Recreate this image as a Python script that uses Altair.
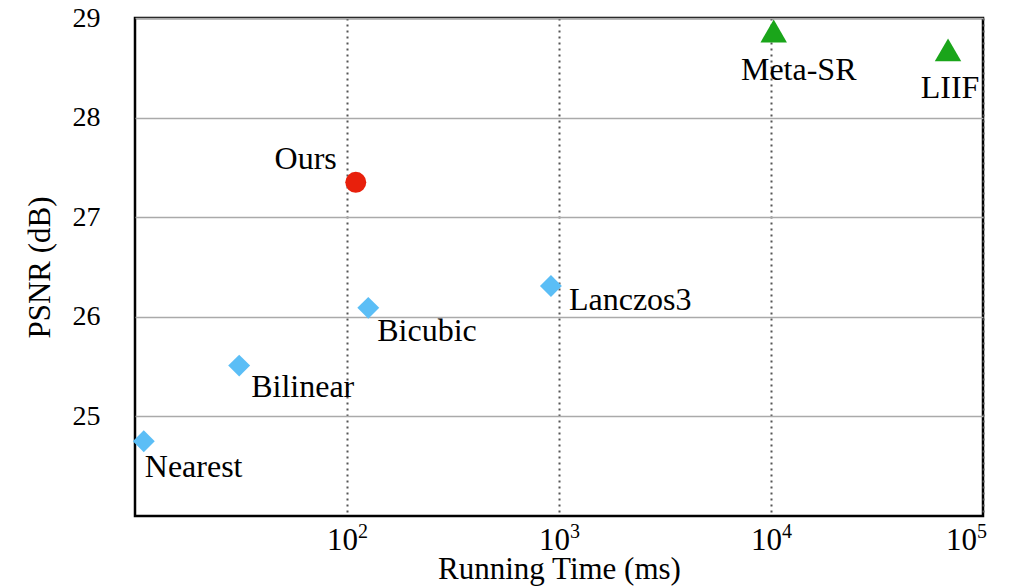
import altair as alt
import pandas as pd

methods = ["Nearest", "Bilinear", "Bicubic", "Lanczos3", "Ours", "Meta-SR", "LIIF"]
time_ms = [11.0, 31.0, 126, 916, 110, 10300, 68400]
psnr = [24.75, 25.51, 26.09, 26.31, 27.35, 28.87, 28.68]
kind = ["interp", "interp", "interp", "interp", "ours", "learned", "learned"]

x_ticks = [100, 1000, 10000, 100000]
x_tick_base = ["10", "10", "10", "10"]
x_tick_exp = ["2", "3", "4", "5"]
y_ticks = [25, 26, 27, 28, 29]

df = pd.DataFrame({"method": methods, "time": time_ms, "psnr": psnr, "kind": kind})
ticks_df = pd.DataFrame({"time": x_ticks, "base": x_tick_base, "exp": x_tick_exp})

FONT = "Liberation Serif"
Y_MIN = 24

x_enc = alt.X(
    "time:Q",
    scale=alt.Scale(type="log", domain=[10, 100000], nice=False),
    axis=alt.Axis(
        values=x_ticks,
        labels=False,
        title="Running Time (ms)",
        grid=True,
        gridDash=[2, 4],
        gridColor="#555555",
        gridWidth=2,
        ticks=False,
        domain=False,
        titleFontSize=31,
        titleFontWeight="normal",
        titlePadding=38,
        titleColor="black",
        titleFont=FONT,
    ),
)
y_enc = alt.Y(
    "psnr:Q",
    scale=alt.Scale(domain=[24, 29], nice=False, zero=False),
    axis=alt.Axis(
        values=y_ticks,
        format="d",
        title="PSNR (dB)",
        grid=True,
        gridColor="#aaaaaa",
        gridWidth=1.5,
        ticks=False,
        domain=False,
        labelFontSize=28,
        labelPadding=35,
        titleFontSize=31,
        titleFontWeight="normal",
        titlePadding=16,
        labelColor="black",
        titleColor="black",
        labelFont=FONT,
        titleFont=FONT,
        labelFlush=False,
    ),
)

base = alt.Chart(df)

diamonds = base.transform_filter(alt.datum.kind == "interp").mark_point(
    shape="diamond", filled=True, size=480, color="#5BBEF6", opacity=1
).encode(x=x_enc, y=y_enc)

circle = base.transform_filter(alt.datum.kind == "ours").mark_point(
    shape="circle", filled=True, size=441, color="#E8200C", opacity=1
).encode(x="time:Q", y="psnr:Q")

triangles = base.transform_filter(alt.datum.kind == "learned").mark_point(
    shape="triangle-up", filled=True, size=700, color="#1AA51A", opacity=1
).encode(x="time:Q", y="psnr:Q")

label_style = {
    "Nearest": dict(align="left", dx=1, dy=36),
    "Bilinear": dict(align="left", dx=12, dy=31),
    "Bicubic": dict(align="left", dx=9, dy=33),
    "Lanczos3": dict(align="left", dx=18, dy=24),
    "Ours": dict(align="right", dx=-19, dy=-13),
    "Meta-SR": dict(align="center", dx=25, dy=49),
    "LIIF": dict(align="center", dx=2, dy=48),
}

texts = []
for m in methods:
    st = label_style[m]
    texts.append(
        base.transform_filter(alt.datum.method == m)
        .mark_text(font=FONT, fontSize=32, color="black", baseline="alphabetic", **st)
        .encode(x="time:Q", y="psnr:Q", text="method:N")
    )

# x tick labels as 10 with superscript exponent
tick_base = alt.Chart(ticks_df)
inner = alt.datum.time < 100000
last = alt.datum.time >= 100000
tick_layers = [
    tick_base.transform_filter(inner).mark_text(
        font=FONT, fontSize=31, color="black", align="right", baseline="alphabetic", dx=11, dy=34
    ).encode(x="time:Q", y=alt.datum(Y_MIN), text="base:N"),
    tick_base.transform_filter(inner).mark_text(
        font=FONT, fontSize=20, color="black", align="left", baseline="alphabetic", dx=11, dy=22
    ).encode(x="time:Q", y=alt.datum(Y_MIN), text="exp:N"),
    tick_base.transform_filter(last).mark_text(
        font=FONT, fontSize=31, color="black", align="right", baseline="alphabetic", dx=-6, dy=34
    ).encode(x="time:Q", y=alt.datum(Y_MIN), text="base:N"),
    tick_base.transform_filter(last).mark_text(
        font=FONT, fontSize=20, color="black", align="left", baseline="alphabetic", dx=-6, dy=22
    ).encode(x="time:Q", y=alt.datum(Y_MIN), text="exp:N"),
]

chart = (
    alt.layer(diamonds, circle, triangles, *texts, *tick_layers)
    .properties(
        width=848,
        height=498,
        autosize=alt.AutoSizeParams(type="none"),
        padding={"left": 127, "top": 10, "right": 20, "bottom": 71},
        background="white",
    )
    .configure_view(stroke="black", strokeWidth=2.5)
)

chart.save("out.html", embed_options={"renderer": "svg", "actions": False})
